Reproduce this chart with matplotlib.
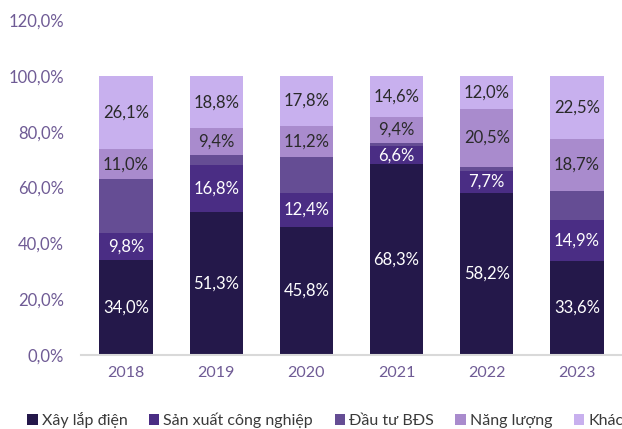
import matplotlib
matplotlib.use("Agg")
import matplotlib.pyplot as plt
import numpy as np

years = ["2018", "2019", "2020", "2021", "2022", "2023"]
series_names = ["Xây lắp điện", "Sản xuất công nghiệp", "Đầu tư BĐS", "Năng lượng", "Khác"]
xay_lap_dien = [34.0, 51.3, 45.8, 68.3, 58.2, 33.6]
san_xuat_cn = [9.8, 16.8, 12.4, 6.6, 7.7, 14.9]
dau_tu_bds = [19.1, 3.7, 12.8, 1.1, 1.6, 10.3]
nang_luong = [11.0, 9.4, 11.2, 9.4, 20.5, 18.7]
khac = [26.1, 18.8, 17.8, 14.6, 12.0, 22.5]
yticks = [0, 20, 40, 60, 80, 100, 120]

colors = ["#24184a", "#4a2d84", "#654d94", "#a98bcd", "#c8b0ee"]
text_colors = ["white", "white", "white", "#2a2a2a", "#2a2a2a"]
show_labels = [True, True, False, True, True]

plt.rcParams['font.family'] = ['Lato', 'DejaVu Sans']

fig = plt.figure(figsize=(6.22, 4.29), dpi=100)
ax = fig.add_axes([0.130, 0.1725, 0.870, 0.7805])

data = [xay_lap_dien, san_xuat_cn, dau_tu_bds, nang_luong, khac]
x = np.arange(len(years))
bottom = np.zeros(len(years))
handles = []
for i, vals in enumerate(data):
    vals = np.array(vals)
    b = ax.bar(x, vals, 0.59, bottom=bottom, color=colors[i], label=series_names[i], linewidth=0)
    handles.append(b)
    if show_labels[i]:
        for xi, v, bt in zip(x, vals, bottom):
            if v >= 5:
                ax.text(xi, bt + v / 2, f"{v:.1f}%".replace(".", ","), ha="center", va="center",
                        color=text_colors[i], fontsize=12)
    bottom += vals

ax.set_xlim(-0.5, 5.5)
ax.set_ylim(0, 120)
ax.set_yticks(yticks)
ax.set_yticklabels([f"{v:.1f}%".replace(".", ",") for v in yticks], color="#6f5b95", fontsize=12)
ax.set_xticks(x)
ax.set_xticklabels(years, color="#6f5b95", fontsize=11.5)
ax.tick_params(axis="both", length=0)
ax.tick_params(axis="y", pad=12)
ax.tick_params(axis="x", pad=8)
for s in ["top", "right", "left"]:
    ax.spines[s].set_visible(False)
ax.spines["bottom"].set_color("#d9d9d9")
ax.spines["bottom"].set_linewidth(1.5)

fig.legend(handles=handles, labels=series_names, loc="center", bbox_to_anchor=(0.523, 0.02),
           ncol=5, frameon=False, fontsize=11.5, handlelength=0.65, handleheight=0.65,
           handletextpad=0.25, columnspacing=1.35, labelcolor="#3a3a3a")

fig.savefig("out.png", dpi=100)
